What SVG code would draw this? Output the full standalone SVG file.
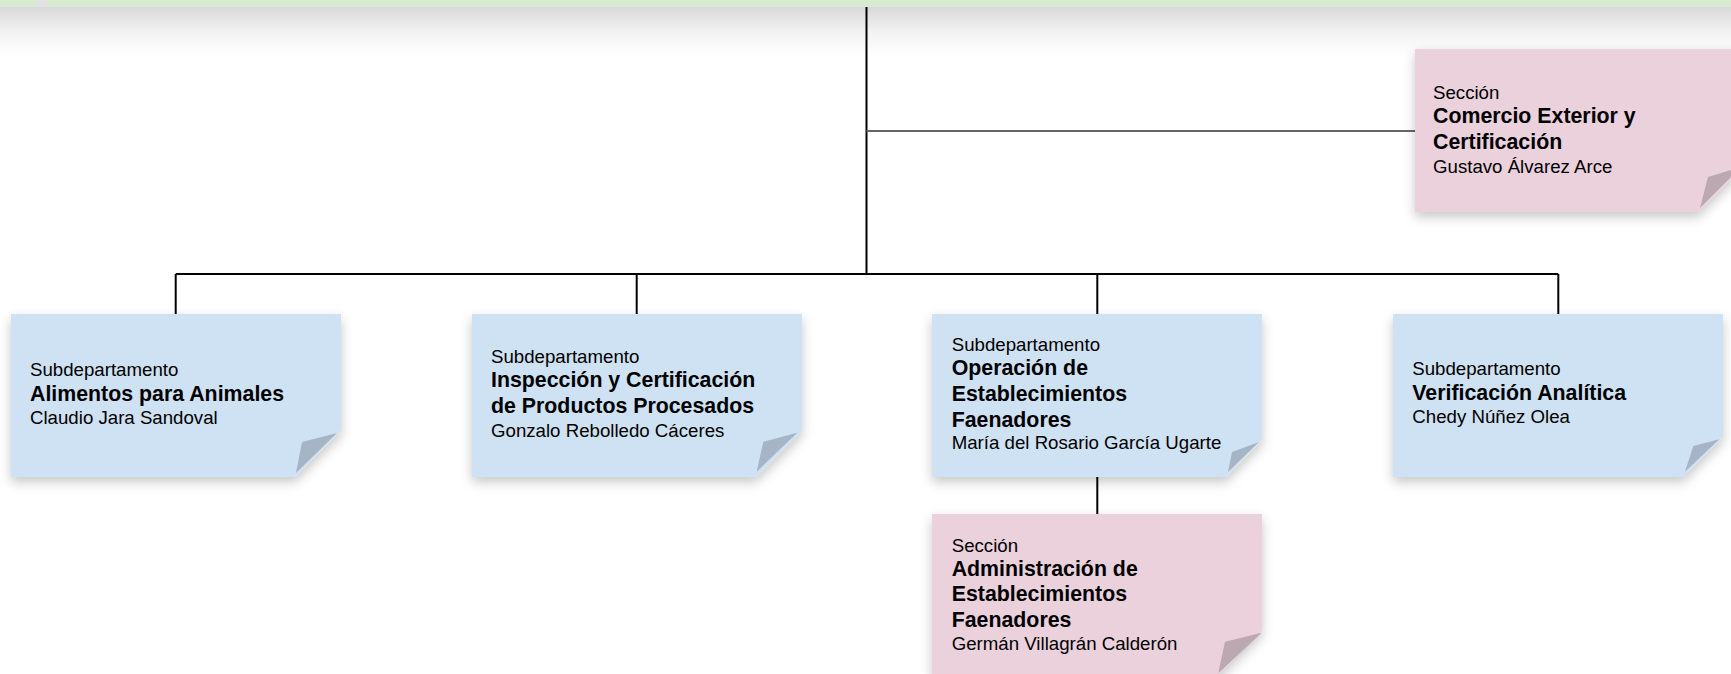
<svg xmlns="http://www.w3.org/2000/svg" width="1731" height="674" viewBox="0 0 1731 674">
<defs>
<filter id="sh" x="-10%" y="-10%" width="125%" height="130%">
<feDropShadow dx="0" dy="5" stdDeviation="6" flood-color="#000" flood-opacity="0.22"/>
</filter>
<linearGradient id="topsh" x1="0" y1="0" x2="0" y2="1">
<stop offset="0" stop-color="#000" stop-opacity="0.15"/>
<stop offset="0.5" stop-color="#000" stop-opacity="0.05"/>
<stop offset="1" stop-color="#000" stop-opacity="0"/>
</linearGradient>
<style>
.blue{fill:#cfe2f3}
.bfold{fill:#a5b5c5}
.pink{fill:#ead1dc}
.pfold{fill:#bca8b1}
.green{fill:#d9ead3}
text{font-family:"Liberation Sans",Arial,sans-serif;fill:#000}
.r{font-size:18.67px}
.b{font-size:21.33px;font-weight:bold}
.ln{stroke:#000;stroke-width:2;fill:none}
.lg{stroke:#666;stroke-width:2;fill:none}
</style>
</defs>
<rect width="1731" height="674" fill="#fff"/>

<g id="top-bar">
<rect x="0" y="7" width="1731" height="50" fill="url(#topsh)"/>
<rect x="37" y="0" width="11" height="7" fill="#e2e2e2"/>
<rect class="green" x="0" y="0" width="37" height="7"/>
<rect class="green" x="48" y="0" width="1683" height="7"/>
</g>

<g id="connectors">
<line class="ln" x1="866.5" y1="7" x2="866.5" y2="274"/>
<line class="lg" x1="866.5" y1="131" x2="1415" y2="131"/>
<line class="ln" x1="175.7" y1="274" x2="1558.3" y2="274"/>
<line class="ln" x1="175.7" y1="274" x2="175.7" y2="314"/>
<line class="ln" x1="636.7" y1="274" x2="636.7" y2="314"/>
<line class="ln" x1="1097.3" y1="274" x2="1097.3" y2="314"/>
<line class="ln" x1="1558.3" y1="274" x2="1558.3" y2="314"/>
<line class="ln" x1="1097.3" y1="477" x2="1097.3" y2="514"/>
</g>

<g id="seccion-comercio">
<polygon class="pink" filter="url(#sh)" points="1415,49 1745,49 1745,165 1698,212 1415,212"/>
<polygon class="pfold" points="1741,167 1708,177 1700,208"/>
<text class="r" x="1433" y="99.3">Sección</text>
<text class="b" x="1433" y="123.3">Comercio Exterior y</text>
<text class="b" x="1433" y="149">Certificación</text>
<text class="r" x="1433" y="172.5">Gustavo Álvarez Arce</text>
</g>

<g id="sub-alimentos">
<polygon class="blue" filter="url(#sh)" points="11,314 341,314 341,431 295,477 11,477"/>
<polygon class="bfold" points="337,433 302,442 296,473"/>
<text class="r" x="30" y="376">Subdepartamento</text>
<text class="b" x="30" y="400.5">Alimentos para Animales</text>
<text class="r" x="30" y="424">Claudio Jara Sandoval</text>
</g>

<g id="sub-inspeccion">
<polygon class="blue" filter="url(#sh)" points="472,314 802,314 802,431 756,477 472,477"/>
<polygon class="bfold" points="797.3,432.7 763.3,441.7 756.7,471.7"/>
<text class="r" x="491" y="363.3">Subdepartamento</text>
<text class="b" x="491" y="387.3">Inspección y Certificación</text>
<text class="b" x="491" y="413.3">de Productos Procesados</text>
<text class="r" x="491" y="436.7">Gonzalo Rebolledo Cáceres</text>
</g>

<g id="sub-operacion">
<polygon class="blue" filter="url(#sh)" points="932,314 1262,314 1262,440 1226,477 932,477"/>
<polygon class="bfold" points="1259,442 1232,452 1228,472"/>
<text class="r" x="951.7" y="351">Subdepartamento</text>
<text class="b" x="951.7" y="375">Operación de</text>
<text class="b" x="951.7" y="401">Establecimientos</text>
<text class="b" x="951.7" y="426.5">Faenadores</text>
<text class="r" x="951.7" y="449.3">María del Rosario García Ugarte</text>
</g>

<g id="sub-verificacion">
<polygon class="blue" filter="url(#sh)" points="1393,314 1723,314 1723,437 1683,477 1393,477"/>
<polygon class="bfold" points="1719.3,439.3 1693.3,446 1685,471.7"/>
<text class="r" x="1412.3" y="375.3">Subdepartamento</text>
<text class="b" x="1412.3" y="400">Verificación Analítica</text>
<text class="r" x="1412.3" y="423.3">Chedy Núñez Olea</text>
</g>

<g id="seccion-administracion">
<polygon class="pink" filter="url(#sh)" points="932,514 1262,514 1262,631 1216,677 932,677"/>
<polygon class="pfold" points="1261.7,632.7 1225,641.7 1218.3,673.3"/>
<text class="r" x="951.7" y="551.7">Sección</text>
<text class="b" x="951.7" y="575.7">Administración de</text>
<text class="b" x="951.7" y="601.3">Establecimientos</text>
<text class="b" x="951.7" y="627">Faenadores</text>
<text class="r" x="951.7" y="650.3">Germán Villagrán Calderón</text>
</g>
</svg>
